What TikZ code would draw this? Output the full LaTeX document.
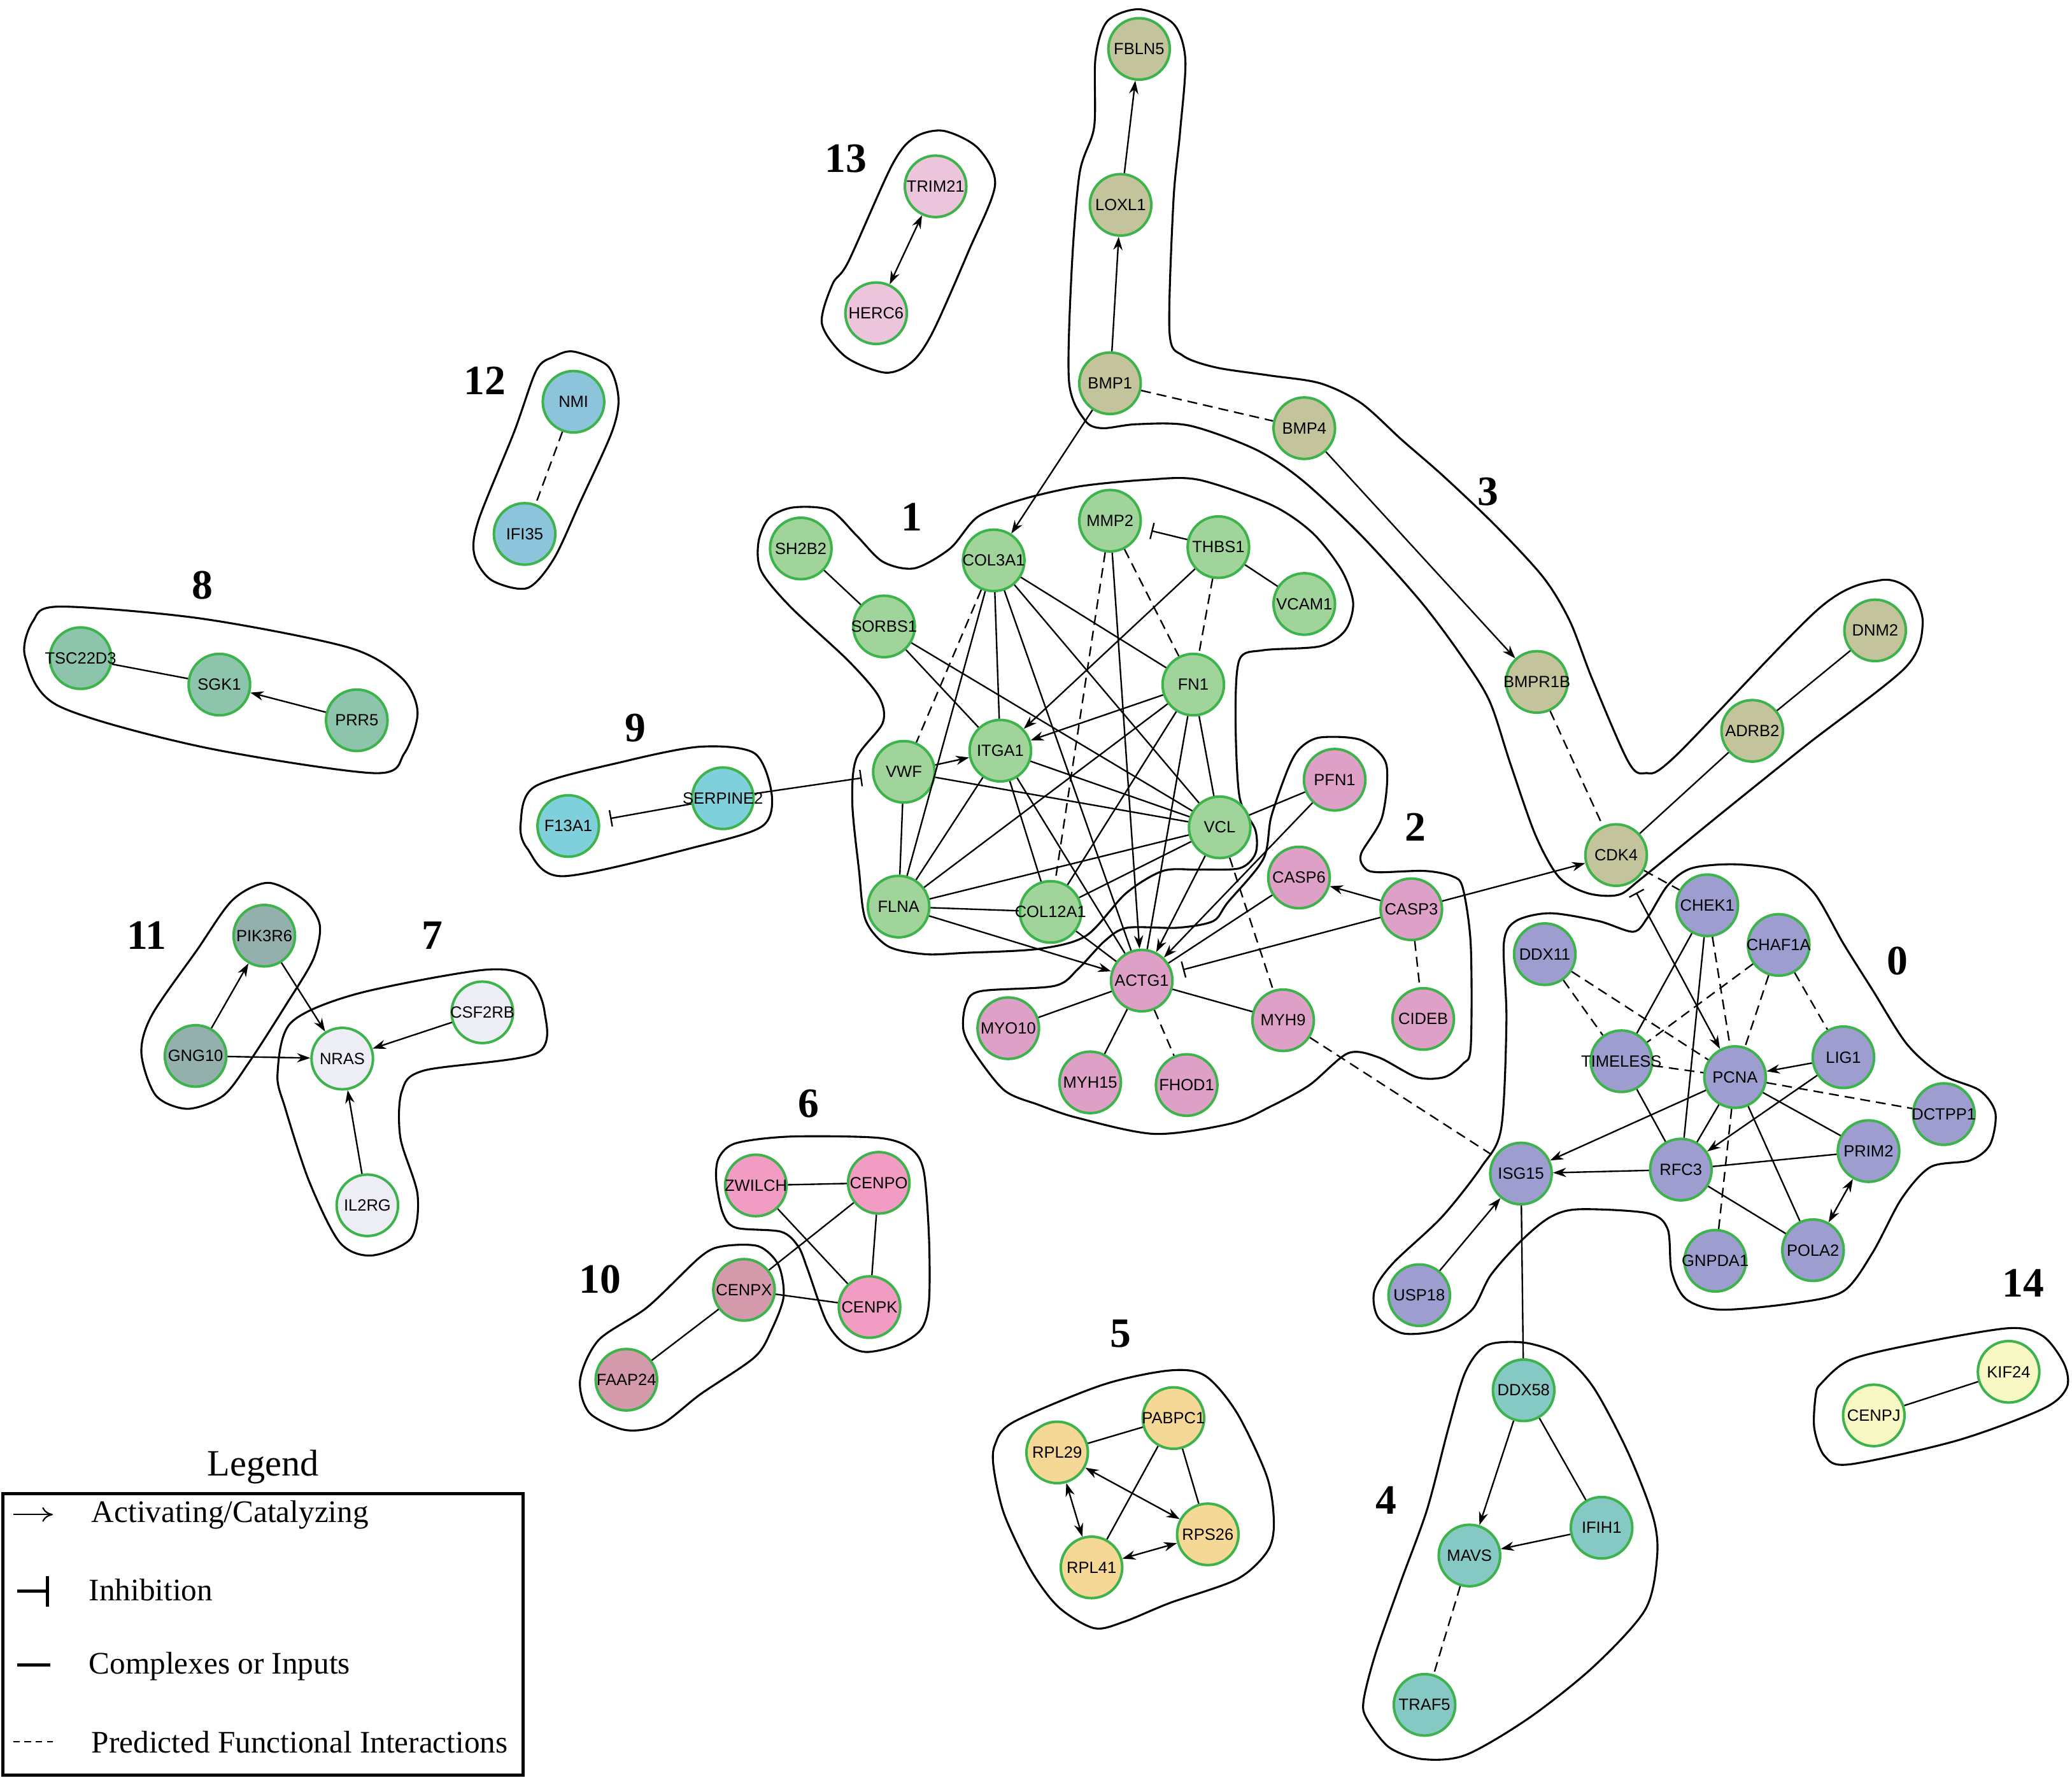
\documentclass[tikz,border=0pt]{standalone}
\usepackage{fontspec}
\setmainfont{Liberation Serif}
\setsansfont{Liberation Sans}
\usetikzlibrary{arrows.meta}

\definecolor{ringgreen}{RGB}{60,180,75}
\definecolor{col0}{RGB}{157,157,208}
\definecolor{col1}{RGB}{160,212,155}
\definecolor{col2}{RGB}{223,160,200}
\definecolor{col3}{RGB}{196,196,156}
\definecolor{col4}{RGB}{134,200,196}
\definecolor{col5}{RGB}{245,216,150}
\definecolor{col6}{RGB}{242,156,196}
\definecolor{col7}{RGB}{237,237,245}
\definecolor{col8}{RGB}{140,196,172}
\definecolor{col9}{RGB}{128,208,220}
\definecolor{col10}{RGB}{212,154,172}
\definecolor{col11}{RGB}{148,176,172}
\definecolor{col12}{RGB}{140,196,220}
\definecolor{col13}{RGB}{236,196,220}
\definecolor{col14}{RGB}{248,248,196}

\newcommand{\genefont}{\sffamily\fontsize{7}{8}\selectfont}

\tikzset{
  gene/.style={circle, draw=ringgreen, line width=1.1pt, minimum size=9.3mm, inner sep=0pt, font=\genefont,
    execute at begin node=\hbox to 0pt\bgroup\hss, execute at end node=\hss\egroup},
  hull/.style={line width=0.85pt},
  link/.style={line width=0.65pt},
  pred/.style={link, dash pattern=on 1.5mm off 0.9mm},
  inh/.style={link, -{Bar[width=2.5mm]}, shorten >=1.6mm},
  num/.style={font=\bfseries\fontsize{18}{20}\selectfont},
  legtext/.style={anchor=west, inner sep=0pt, font=\fontsize{13.5}{15}\selectfont}
}

\begin{document}
\begin{tikzpicture}[x=0.2mm, y=-0.2mm, >={Stealth[length=2mm,width=1.4mm]}]
\useasboundingbox (0,0) rectangle (1568,1345);

% hulls
\draw[hull] plot[smooth cycle] coordinates {(1236,705) (1247,694) (1262,670) (1280,657) (1313,654) (1350,659) (1373,676) (1395,714) (1417,749) (1443,790) (1469,813) (1498,825) (1510,842) (1506,866) (1491,878) (1461,883) (1439,907) (1417,948) (1395,977) (1358,986) (1302,991) (1276,983) (1265,962) (1262,930) (1247,918) (1195,915) (1173,921) (1151,939) (1128,965) (1114,991) (1091,1006) (1062,1009) (1043,997) (1040,977) (1054,956) (1091,921) (1121,883) (1136,854) (1140,772) (1138,714) (1147,697) (1173,691) (1210,697)};
\draw[hull] plot[smooth cycle] coordinates {(576,432) (574,410) (582,392) (600,384) (628,386) (648,405) (668,425) (692,430) (719,415) (740,391) (773,378) (817,368) (868,363) (907,363) (962,382) (993,403) (1015,431) (1024,456) (1018,477) (999,489) (956,492) (938,499) (935,542) (938,603) (950,628) (950,646) (938,657) (907,658) (880,659) (852,676) (822,708) (786,718) (730,721) (700,722) (672,716) (655,696) (650,658) (645,608) (648,574) (668,547) (665,527) (642,500) (598,459)};
\draw[hull] plot[smooth cycle] coordinates {(975,581) (984,566) (999,558) (1030,560) (1049,578) (1046,618) (1030,646) (1033,657) (1043,660) (1078,659) (1099,663) (1107,672) (1113,715) (1113,792) (1107,805) (1093,815) (1072,815) (1043,800) (1020,797) (991,821) (962,837) (932,850) (874,858) (816,846) (786,836) (760,825) (737,796) (729,779) (731,760) (742,750) (798,746) (816,733) (836,712) (853,702) (891,702) (918,697) (929,683) (956,650) (962,618)};
\draw[hull] plot[smooth cycle] coordinates {(862,7) (888,18) (897,45) (893,100) (888,152) (885,251) (895,269) (920,278) (960,284) (999,290) (1030,305) (1061,333) (1092,360) (1132,398) (1168,437) (1188,470) (1205,514) (1232,576) (1245,585) (1268,572) (1377,460) (1423,439) (1446,447) (1455,472) (1442,505) (1368,563) (1302,616) (1243,664) (1225,677) (1202,676) (1180,664) (1162,632) (1143,578) (1127,530) (1105,495) (1075,455) (1030,405) (985,363) (950,340) (900,322) (860,321) (834,324) (821,318) (809,289) (811,204) (817,131) (828,96) (829,44) (838,16)};
\draw[hull] plot[smooth cycle] coordinates {(1109,1038) (1125,1018) (1154,1016) (1183,1026) (1206,1050) (1232,1099) (1251,1148) (1254,1178) (1245,1218) (1206,1261) (1157,1300) (1109,1328) (1076,1331) (1051,1322) (1034,1300) (1032,1286) (1041,1251) (1060,1197) (1080,1142) (1096,1081)};
\draw[hull] plot[smooth cycle] coordinates {(753,1093) (767,1076) (834,1048) (885,1037) (912,1041) (936,1069) (959,1118) (964,1153) (959,1174) (936,1195) (885,1213) (851,1227) (828,1232) (801,1216) (780,1188) (760,1146) (752,1111)};
\draw[hull] plot[smooth cycle] coordinates {(544,876) (557,865) (598,860) (665,861) (689,869) (699,886) (703,936) (703,985) (697,1006) (679,1018) (655,1023) (638,1016) (625,999) (611,960) (604,943) (591,932) (557,929) (547,918) (542,893)};
\draw[hull] plot[smooth cycle] coordinates {(210,813) (220,774) (270,752) (365,734) (399,739) (412,765) (406,797) (321,810) (304,826) (303,861) (316,904) (311,937) (281,950) (257,940) (234,894) (216,839)};
\draw[hull] plot[smooth cycle] coordinates {(25,470) (45,459) (152,468) (264,490) (304,513) (316,539) (306,570) (283,585) (152,565) (44,534) (19,497)};
\draw[hull] plot[smooth cycle] coordinates {(394,623) (405,595) (473,576) (530,565) (571,570) (584,601) (577,625) (530,640) (426,663) (399,642)};
\draw[hull] plot[smooth cycle] coordinates {(439,1044) (453,1014) (490,989) (530,951) (547,943) (574,943) (589,957) (593,981) (584,1006) (571,1027) (530,1055) (500,1078) (473,1082) (446,1069)};
\draw[hull] plot[smooth cycle] coordinates {(203,668) (230,681) (242,700) (237,726) (216,761) (189,803) (169,829) (142,839) (118,829) (107,797) (115,768) (149,719) (176,681)};
\draw[hull] plot[smooth cycle] coordinates {(434,266) (460,277) (468,301) (463,327) (439,380) (419,423) (399,445) (372,439) (359,420) (362,394) (389,327) (406,280) (419,270)};
\draw[hull] plot[smooth cycle] coordinates {(714,99) (740,112) (753,140) (733,190) (706,251) (690,274) (670,282) (640,270) (622,245) (630,215) (642,198) (675,125) (692,104)};
\draw[hull] plot[smooth cycle] coordinates {(1378,1047) (1400,1029) (1449,1017) (1520,1005) (1546,1011) (1562,1032) (1564,1050) (1546,1066) (1481,1090) (1400,1108) (1381,1102) (1373,1081) (1374,1056)};

% cluster numbers
\node[num] (n0) at (1436,727) {0};
\node[num] (n1) at (690,391) {1};
\node[num] (n2) at (1071,626) {2};
\node[num] (n3) at (1126,372) {3};
\node[num] (n4) at (1049,1135) {4};
\node[num] (n5) at (848,1009) {5};
\node[num] (n6) at (612,835) {6};
\node[num] (n7) at (327,708) {7};
\node[num] (n8) at (153,443) {8};
\node[num] (n9) at (481,551) {9};
\node[num] (n10) at (454,968) {10};
\node[num] (n11) at (111,708) {11};
\node[num] (n12) at (367,288) {12};
\node[num] (n13) at (640,120) {13};
\node[num] (n14) at (1531,971) {14};

% cluster 0
\node[gene, fill=col0] (CHEK1) at (1292,685) {CHEK1};
\node[gene, fill=col0] (CHAF1A) at (1346,715) {CHAF1A};
\node[gene, fill=col0] (DDX11) at (1169,722) {DDX11};
\node[gene, fill=col0] (TIMELESS) at (1227,803) {TIMELESS};
\node[gene, fill=col0] (PCNA) at (1313,815) {PCNA};
\node[gene, fill=col0] (LIG1) at (1395,800) {LIG1};
\node[gene, fill=col0] (DCTPP1) at (1471,843) {DCTPP1};
\node[gene, fill=col0] (PRIM2) at (1414,871) {PRIM2};
\node[gene, fill=col0] (RFC3) at (1272,885) {RFC3};
\node[gene, fill=col0] (ISG15) at (1151,888) {ISG15};
\node[gene, fill=col0] (POLA2) at (1372,946) {POLA2};
\node[gene, fill=col0] (GNPDA1) at (1298,954) {GNPDA1};
\node[gene, fill=col0] (USP18) at (1074,980) {USP18};
% cluster 1
\node[gene, fill=col1] (SH2B2) at (606,415) {SH2B2};
\node[gene, fill=col1] (SORBS1) at (669,474) {SORBS1};
\node[gene, fill=col1] (COL3A1) at (752,424) {COL3A1};
\node[gene, fill=col1] (MMP2) at (840,394) {MMP2};
\node[gene, fill=col1] (THBS1) at (922,414) {THBS1};
\node[gene, fill=col1] (VCAM1) at (987,457) {VCAM1};
\node[gene, fill=col1] (FN1) at (903,518) {FN1};
\node[gene, fill=col1] (VWF) at (684,584) {VWF};
\node[gene, fill=col1] (ITGA1) at (757,568) {ITGA1};
\node[gene, fill=col1] (VCL) at (923,626) {VCL};
\node[gene, fill=col1] (FLNA) at (680,686) {FLNA};
\node[gene, fill=col1] (COL12A1) at (795,690) {COL12A1};
% cluster 2
\node[gene, fill=col2] (ACTG1) at (864,742) {ACTG1};
\node[gene, fill=col2] (MYO10) at (763,778) {MYO10};
\node[gene, fill=col2] (MYH15) at (825,819) {MYH15};
\node[gene, fill=col2] (FHOD1) at (898,821) {FHOD1};
\node[gene, fill=col2] (MYH9) at (971,772) {MYH9};
\node[gene, fill=col2] (PFN1) at (1010,590) {PFN1};
\node[gene, fill=col2] (CASP6) at (983,664) {CASP6};
\node[gene, fill=col2] (CASP3) at (1068,688) {CASP3};
\node[gene, fill=col2] (CIDEB) at (1077,771) {CIDEB};
% cluster 3
\node[gene, fill=col3] (FBLN5) at (862,37) {FBLN5};
\node[gene, fill=col3] (LOXL1) at (848,155) {LOXL1};
\node[gene, fill=col3] (BMP1) at (840,290) {BMP1};
\node[gene, fill=col3] (BMP4) at (987,324) {BMP4};
\node[gene, fill=col3] (BMPR1B) at (1163,516) {BMPR1B};
\node[gene, fill=col3] (CDK4) at (1223,647) {CDK4};
\node[gene, fill=col3] (ADRB2) at (1326,553) {ADRB2};
\node[gene, fill=col3] (DNM2) at (1419,477) {DNM2};
% cluster 4
\node[gene, fill=col4] (DDX58) at (1153,1052) {DDX58};
\node[gene, fill=col4] (IFIH1) at (1212,1156) {IFIH1};
\node[gene, fill=col4] (MAVS) at (1112,1177) {MAVS};
\node[gene, fill=col4] (TRAF5) at (1078,1290) {TRAF5};
% cluster 5
\node[gene, fill=col5] (RPL29) at (800,1099) {RPL29};
\node[gene, fill=col5] (PABPC1) at (888,1073) {PABPC1};
\node[gene, fill=col5] (RPS26) at (914,1161) {RPS26};
\node[gene, fill=col5] (RPL41) at (826,1186) {RPL41};
% cluster 6
\node[gene, fill=col6] (ZWILCH) at (572,897) {ZWILCH};
\node[gene, fill=col6] (CENPO) at (665,895) {CENPO};
\node[gene, fill=col6] (CENPK) at (658,989) {CENPK};
% cluster 7
\node[gene, fill=col7] (NRAS) at (259,801) {NRAS};
\node[gene, fill=col7] (CSF2RB) at (365,766) {CSF2RB};
\node[gene, fill=col7] (IL2RG) at (278,912) {IL2RG};
% cluster 8
\node[gene, fill=col8] (TSC22D3) at (61,498) {TSC22D3};
\node[gene, fill=col8] (SGK1) at (166,518) {SGK1};
\node[gene, fill=col8] (PRR5) at (270,545) {PRR5};
% cluster 9
\node[gene, fill=col9] (F13A1) at (430,625) {F13A1};
\node[gene, fill=col9] (SERPINE2) at (547,604) {SERPINE2};
% cluster 10
\node[gene, fill=col10] (CENPX) at (563,976) {CENPX};
\node[gene, fill=col10] (FAAP24) at (474,1044) {FAAP24};
% cluster 11
\node[gene, fill=col11] (PIK3R6) at (200,708) {PIK3R6};
\node[gene, fill=col11] (GNG10) at (148,799) {GNG10};
% cluster 12
\node[gene, fill=col12] (NMI) at (434,304) {NMI};
\node[gene, fill=col12] (IFI35) at (397,404) {IFI35};
% cluster 13
\node[gene, fill=col13] (TRIM21) at (708,141) {TRIM21};
\node[gene, fill=col13] (HERC6) at (663,237) {HERC6};
% cluster 14
\node[gene, fill=col14] (CENPJ) at (1418,1071) {CENPJ};
\node[gene, fill=col14] (KIF24) at (1520,1038) {KIF24};

% edges, cluster 0
\draw[link] (CHEK1) -- (TIMELESS);
\draw[link] (CHEK1) -- (RFC3);
\draw[pred] (CHEK1) -- (PCNA);
\draw[pred] (CHAF1A) -- (TIMELESS);
\draw[pred] (CHAF1A) -- (PCNA);
\draw[pred] (CHAF1A) -- (LIG1);
\draw[pred] (DDX11) -- (TIMELESS);
\draw[pred] (DDX11) -- (PCNA);
\draw[pred] (TIMELESS) -- (PCNA);
\draw[link] (TIMELESS) -- (RFC3);
\draw[link,->] (LIG1) -- (PCNA);
\draw[link,->] (LIG1) -- (RFC3);
\draw[pred] (PCNA) -- (DCTPP1);
\draw[link] (PCNA) -- (PRIM2);
\draw[link,->] (PCNA) -- (ISG15);
\draw[link] (PCNA) -- (RFC3);
\draw[pred] (PCNA) -- (GNPDA1);
\draw[link] (PCNA) -- (POLA2);
\draw[link] (RFC3) -- (PRIM2);
\draw[link,->] (RFC3) -- (ISG15);
\draw[link] (RFC3) -- (POLA2);
\draw[link,<->] (PRIM2) -- (POLA2);
\draw[link,->] (USP18) -- (ISG15);
\draw[link] (ISG15) -- (DDX58);
% cluster 1
\draw[link] (SH2B2) -- (SORBS1);
\draw[link] (SORBS1) -- (ITGA1);
\draw[link] (SORBS1) -- (VCL);
\draw[pred] (COL3A1) -- (VWF);
\draw[link] (COL3A1) -- (FLNA);
\draw[link] (COL3A1) -- (ITGA1);
\draw[link] (COL3A1) -- (ACTG1);
\draw[link] (COL3A1) -- (VCL);
\draw[link] (COL3A1) -- (FN1);
\draw[inh] (THBS1) -- (MMP2);
\draw[pred] (MMP2) -- (COL12A1);
\draw[link,->] (MMP2) -- (ACTG1);
\draw[pred] (MMP2) -- (FN1);
\draw[link,->] (THBS1) -- (ITGA1);
\draw[pred] (THBS1) -- (FN1);
\draw[link] (THBS1) -- (VCAM1);
\draw[link,->] (FN1) -- (ITGA1);
\draw[link] (FN1) -- (FLNA);
\draw[link] (FN1) -- (COL12A1);
\draw[link] (FN1) -- (ACTG1);
\draw[link] (FN1) -- (VCL);
\draw[link,->] (VWF) -- (ITGA1);
\draw[link] (VWF) -- (VCL);
\draw[link] (VWF) -- (FLNA);
\draw[link] (ITGA1) -- (FLNA);
\draw[link] (ITGA1) -- (VCL);
\draw[link] (ITGA1) -- (COL12A1);
\draw[link] (ITGA1) -- (ACTG1);
\draw[link] (VCL) -- (FLNA);
\draw[link] (VCL) -- (COL12A1);
\draw[link,->] (VCL) -- (ACTG1);
\draw[pred] (VCL) -- (MYH9);
\draw[link] (FLNA) -- (COL12A1);
\draw[link,->] (FLNA) -- (ACTG1);
\draw[link] (COL12A1) -- (ACTG1);
% cluster 2
\draw[link] (PFN1) -- (VCL);
\draw[link,->] (PFN1) -- (ACTG1);
\draw[link] (CASP6) -- (ACTG1);
\draw[inh] (CASP3) -- (ACTG1);
\draw[link,->] (CASP3) -- (CASP6);
\draw[pred] (CASP3) -- (CIDEB);
\draw[link,->] (CASP3) -- (CDK4);
\draw[link] (ACTG1) -- (MYO10);
\draw[link] (ACTG1) -- (MYH15);
\draw[pred] (ACTG1) -- (FHOD1);
\draw[link] (ACTG1) -- (MYH9);
\draw[pred] (MYH9) -- (ISG15);
% cluster 3
\draw[link,->] (LOXL1) -- (FBLN5);
\draw[link,->] (BMP1) -- (LOXL1);
\draw[pred] (BMP1) -- (BMP4);
\draw[link,->] (BMP1) -- (COL3A1);
\draw[link,->] (BMP4) -- (BMPR1B);
\draw[pred] (BMPR1B) -- (CDK4);
\draw[link] (CDK4) -- (ADRB2);
\draw[link] (ADRB2) -- (DNM2);
\draw[pred] (CDK4) -- (CHEK1);
\draw[link,{Bar[width=2.5mm]}->,shorten <=1.6mm] (CDK4) -- (PCNA);
% cluster 4
\draw[link,->] (DDX58) -- (MAVS);
\draw[link] (DDX58) -- (IFIH1);
\draw[link,->] (IFIH1) -- (MAVS);
\draw[pred] (MAVS) -- (TRAF5);
% cluster 5
\draw[link] (RPL29) -- (PABPC1);
\draw[link] (PABPC1) -- (RPS26);
\draw[link] (PABPC1) -- (RPL41);
\draw[link,<->] (RPL29) -- (RPS26);
\draw[link,<->] (RPL29) -- (RPL41);
\draw[link,<->] (RPL41) -- (RPS26);
% cluster 6 and 10
\draw[link] (ZWILCH) -- (CENPO);
\draw[link] (ZWILCH) -- (CENPK);
\draw[link] (CENPO) -- (CENPK);
\draw[link] (CENPO) -- (CENPX);
\draw[link] (CENPX) -- (CENPK);
\draw[link] (CENPX) -- (FAAP24);
% cluster 7, 8, 9, 11
\draw[link,->] (GNG10) -- (PIK3R6);
\draw[link,->] (PIK3R6) -- (NRAS);
\draw[link,->] (GNG10) -- (NRAS);
\draw[link,->] (CSF2RB) -- (NRAS);
\draw[link,->] (IL2RG) -- (NRAS);
\draw[link] (TSC22D3) -- (SGK1);
\draw[link,->] (PRR5) -- (SGK1);
\draw[inh] (SERPINE2) -- (F13A1);
\draw[inh] (SERPINE2) -- (VWF);
% cluster 12, 13, 14
\draw[pred] (NMI) -- (IFI35);
\draw[link,<->] (HERC6) -- (TRIM21);
\draw[link] (CENPJ) -- (KIF24);

% legend
\node[font=\fontsize{16}{18}\selectfont] (legtitle) at (199,1110) {Legend};
\draw[line width=1.4pt] (2,1130) rectangle (396,1343);
\node[legtext] (legact) at (69,1146) {Activating/Catalyzing};
\node[legtext] (leginh) at (67,1203) {Inhibition};
\node[legtext] (legcpx) at (67,1261) {Complexes or Inputs};
\node[legtext] (legpred) at (69,1318) {Predicted Functional Interactions};
\coordinate (actA) at (10,1146);
\coordinate (actB) at (40,1146);
\coordinate (inhA) at (13,1204);
\coordinate (inhB) at (37,1204);
\coordinate (cpxA) at (13,1260);
\coordinate (cpxB) at (38,1260);
\coordinate (prdA) at (10,1318);
\coordinate (prdB) at (40,1318);
\draw[line width=0.6pt, -{To[length=1.6mm,width=2.2mm]}] (actA) -- (actB);
\draw[line width=1.4pt, -{Bar[width=4.6mm]}] (inhA) -- (inhB);
\draw[line width=1.4pt] (cpxA) -- (cpxB);
\draw[line width=0.6pt, dash pattern=on 1mm off 0.7mm] (prdA) -- (prdB);
\end{tikzpicture}
\end{document}
